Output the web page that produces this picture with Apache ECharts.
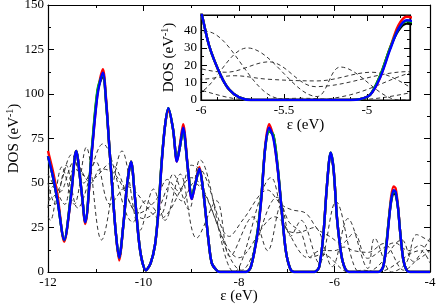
<!DOCTYPE html>
<html><head><meta charset="utf-8">
<script src="https://cdn.jsdelivr.net/npm/echarts@6/dist/echarts.min.js"></script>
<style>html,body{margin:0;padding:0;background:#fff}#c{width:436px;height:304px}</style>
</head><body><div id="c"></div>
<script>
// ---- data ----
const thickX = [-12.0,-11.9,-11.8,-11.66,-11.52,-11.41,-11.3,-11.22,-11.08,-10.96,-10.85,-10.78,-10.72,-10.65,-10.58,-10.51,-10.42,-10.34,-10.26,-10.18,-10.07,-9.95,-9.85,-9.76,-9.69,-9.62,-9.55,-9.48,-9.38,-9.30,-9.24,-9.17,-9.07,-8.99,-8.91,-8.83,-8.76,-8.71,-8.64,-8.57,-8.47,-8.40,-7.85,-7.75,-7.61,-7.53,-7.45,-7.37,-7.28,-7.19,-7.10,-7.02,-6.93,-6.85,-6.42,-6.32,-6.23,-6.16,-6.08,-6.02,-5.95,-5.88,-5.83,-5.77,-5.70,-5.10,-5.04,-4.98,-4.92,-4.86,-4.81,-4.76,-4.72,-4.67,-4.63,-4.56,-4.49,-4.42,-4.0];
const blueY  = [65,54,40,18,42,68,46,28,68,100,112,95,72,46,22,8,27,50,62,42,12,1,5,15,33,61,82,92,80,62,70,81,58,41,50,58,48,36,18,5,1,0,0,3,22,42,70,81,75,58,33,12,2,0,0,3,22,48,67,58,31,14,6,1.5,0,0,0.5,3,13,29,41,46,45,36,24,7,1,0,0];
const redY   = [68,57,43,17,42,68,46,27,68,101,114,96,72,46,22,6.5,27,50,62,42,12,1,5,15,33,61,82,91,80,62,71,83,58,41,50,59,48,36,18,5,1,0,0,3,22,42,71,83,76,58,33,12,2,0,0,3,22,48,66,58,31,14,6,1.5,0,0,0.5,3,13,30,43,48,47,37,24,7,1,0,0];
const greenY = [65,54,40,18,43,68,46,28,70,103,111,94,72,46,22,8,27,50,62,42,12,1,5,15,34,62,82,92,80,63,70,80,58,43,50,58,48,36,18,5,1,0,0,3,23,43,70,79,77,59,33,12,2,0,0,3,22,48,67,58,31,14,6,1.5,0,0,0.5,3,14,30,41,45.5,44.5,36,24,7,1,0,0];
const blackY = [65,54,40,18,43,68,46,28,69,102,110,94,72,46,22,8,27,50,62,42,12,1,5,15,34,62,82,92,80,63,70,80,58,43,50,58,48,36,18,5,1,0,0,3,23,43,70,79,77,59,33,12,2,0,0,3,22,48,67,58,31,14,6,1.5,0,0,0.5,3,14,30,40,44,43.5,36,24,7,1,0,0];

const dash1X = [-12,-11.95,-11.71,-11.45,-11.2,-10.88,-10.45,-10.07,-9.79,-9.55,-9.23,-8.89,-8.47,-8.19,-7.71,-7.40,-7.12,-6.92,-6.70,-6.32,-5.97,-5.54,-5.35,-5.1,-4.59,-4.35,-4.0];
const dash1Y = [31,29,59,38,70,18,68,23.5,46.6,29,55,19,40,8.6,31,12,37.6,20,29,5,39.5,1,0,3,18,6,12];
const dash2X = [-12,-11.85,-11.62,-11.38,-10.85,-10.22,-9.95,-9.65,-9.38,-9.05,-8.82,-8.1,-7.33,-7.02,-6.8,-6.42,-6.05,-5.72,-5.30,-5.16,-4.80,-4.5,-4.28,-4.0];
const dash2Y = [50,38,60,36,72,28,40,32,55,35,63,0,53,24.5,22,25,3,30,2,19,0,5,21,17];
const dash3X = [-12,-11.9,-11.65,-11.45,-11.1,-10.7,-10.1,-9.75,-9.5,-9.25,-9.0,-8.75,-8.2,-7.9,-7.4,-7.12,-6.9,-6.6,-6.35,-6.1,-5.85,-5.59,-5.31,-4.74,-4.45,-4.2,-4.0];
const dash3Y = [36,48,38,58,52,61,33,40,52,45,60,56,20,30,46,38,35,33,24,20,16,22,7.7,16.4,12,15,10];
const dash4X = [-12,-11.8,-11.5,-11.25,-11.0,-10.7,-10.35,-9.65,-9.0,-8.0,-7.25,-6.55,-6.3,-6.0,-5.8,-5.6,-5.3,-4.97,-4.55,-4.0];
const dash4Y = [40,45,66,50,62,38,48,30,53,8,31,8,12,12,14,12,11,16,1,19];
const dash5X = [-12,-11.75,-11.45,-11.1,-10.9,-10.6,-10.0,-9.7,-9.45,-9.2,-8.95,-7.95,-7.2,-6.95,-6.7,-6.5,-6.25,-5.7,-5.4,-5.1,-4.2,-4.0];
const dash5Y = [55,45,62,50,58,55,30,35,48,40,50,1,42,28,22,8,10,0,1,0,12,5];

const mainXTicks = {min: -12, max: -4, interval: 2};
const mainYTicks = {min: 0, max: 150, interval: 25};
const insetXTicks = {min: -6, max: -4.74, interval: 0.5};
const insetYTicks = {min: 0, max: 49, interval: 10};

// ---- chart ----
const FONT = 'Liberation Serif';
const chart = echarts.init(document.getElementById('c'), null, {renderer: 'canvas'});
const pairs = (xs, ys) => xs.map((x, i) => [x, ys[i]]);

function ax(grid, ticks, pos, labels, minorSplit, extra) {
  return Object.assign({
    type: 'value', gridIndex: grid, position: pos,
    min: ticks.min, max: ticks.max, interval: ticks.interval,
    nameMoveOverlap: false,
    axisLine: {show: true, onZero: false, lineStyle: {color: '#000', width: 1.2}},
    axisTick: {show: true, inside: true, length: 6, lineStyle: {color: '#000', width: 1}},
    minorTick: {show: true, splitNumber: minorSplit, length: 3, lineStyle: {color: '#000', width: 1}},
    splitLine: {show: false}, minorSplitLine: {show: false},
    axisLabel: {show: labels, color: '#000', fontFamily: FONT, fontSize: 13, margin: 4, showMaxLabel: grid === 0, showMinLabel: true}
  }, extra || {});
}
const dosName = 'DOS (eV{s|-1})';
const nameStyle = {color: '#000', fontFamily: FONT, fontSize: 15,
  rich: {s: {fontSize: 10, fontFamily: FONT, color: '#000', verticalAlign: 'top', padding: [0, 0, 8, 0]}}};

const series = [];
const dashSets = [[dash1X, dash1Y], [dash2X, dash2Y], [dash3X, dash3Y], [dash4X, dash4Y], [dash5X, dash5Y]];
const thickSets = [[blackY, '#000000'], [redY, '#ff0000'], [greenY, '#00c800'], [blueY, '#0000ff']];
[0, 1].forEach(g => {
  const xi = g === 0 ? 0 : 2, yi = g === 0 ? 0 : 2, z = g === 0 ? 3 : 12;
  dashSets.forEach(([xs, ys]) => series.push({
    type: 'line', xAxisIndex: xi, yAxisIndex: yi, data: pairs(xs, ys), showSymbol: false, symbol: 'none',
    smooth: 0.35, z: z, silent: true,
    lineStyle: {color: '#333', width: 1, type: [4, 3]}
  }));
  thickSets.forEach(([ys, col]) => series.push({
    type: 'line', xAxisIndex: xi, yAxisIndex: yi, data: pairs(thickX, ys), showSymbol: false, symbol: 'none',
    smooth: 0.3, z: z + 1, silent: true,
    lineStyle: {color: col, width: 2.4}
  }));
});

chart.setOption({
  animation: false,
  backgroundColor: '#fff',
  grid: [
    {left: 48, top: 5, width: 382, height: 267, show: false, outerBoundsMode: 'none', containLabel: false},
    {left: 201, top: 15, width: 209, height: 85, show: true, backgroundColor: '#fff', borderColor: '#000', borderWidth: 1.2, z: 10, outerBoundsMode: 'none', containLabel: false}
  ],
  xAxis: [
    ax(0, mainXTicks, 'bottom', true, 2, {name: 'ε (eV)', nameLocation: 'middle', nameGap: 17, nameTextStyle: {color: '#000', fontFamily: FONT, fontSize: 15}}),
    ax(0, mainXTicks, 'top', false, 2),
    ax(1, insetXTicks, 'bottom', true, 5, {z: 13, name: 'ε (eV)', nameLocation: 'middle', nameGap: 18, nameTextStyle: {color: '#000', fontFamily: FONT, fontSize: 15}}),
    ax(1, insetXTicks, 'top', false, 5, {z: 13})
  ],
  yAxis: [
    ax(0, mainYTicks, 'left', true, 2, {name: dosName, nameLocation: 'middle', nameGap: 25, nameRotate: 90, nameTextStyle: nameStyle}),
    ax(0, mainYTicks, 'right', false, 2),
    ax(1, insetYTicks, 'left', true, 2, {z: 13, name: dosName, nameLocation: 'middle', nameGap: 23, nameRotate: 90, nameTextStyle: nameStyle}),
    ax(1, insetYTicks, 'right', false, 2, {z: 13})
  ],
  series: series
});
</script></body></html>
